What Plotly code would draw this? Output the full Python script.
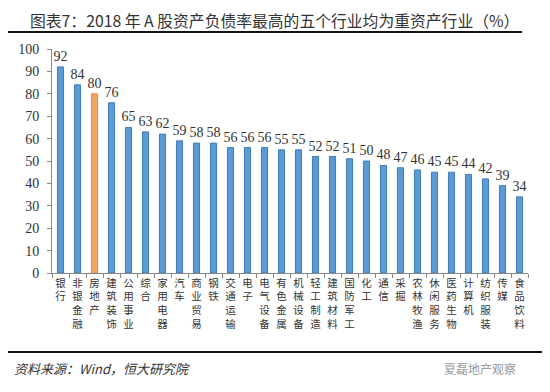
import plotly.graph_objects as go

categories = ["银行", "非银金融", "房地产", "建筑装饰", "公用事业", "综合", "家用电器", "汽车",
              "商业贸易", "钢铁", "交通运输", "电子", "电气设备", "有色金属", "机械设备", "轻工制造",
              "建筑材料", "国防军工", "化工", "通信", "采掘", "农林牧渔", "休闲服务", "医药生物",
              "计算机", "纺织服装", "传媒", "食品饮料"]
values = [92, 84, 80, 76, 65, 63, 62, 59, 58, 58, 56, 56, 56, 55, 55, 52,
          52, 51, 50, 48, 47, 46, 45, 45, 44, 42, 39, 34]
highlight = "房地产"
title_text = "图表7：2018 年 A 股资产负债率最高的五个行业均为重资产行业（%）"
source_text = "资料来源：Wind，恒大研究院"
watermark_text = "夏磊地产观察"
y_ticks = list(range(0, 101, 10))

# the page body adds an 8px margin; size the figure to fill the rest of the window
OFF = 8
W, H = 550 - OFF, 392 - OFF
L, R, T, B = 52 - OFF, 22, 49 - OFF, 392 - 273
pw, ph = W - L - R, H - T - B

def px(x):
    return (x - OFF - L) / pw

def py(y):
    return 1 - (y - OFF - T) / ph

blue = "#5B9BD5"
orange = "#F4A261"
colors = [orange if c == highlight else blue for c in categories]
lines = ["#F08A3C" if c == highlight else "#3F7CB5" for c in categories]

tick_labels = ["<br>".join(list(c)) for c in categories]

fig = go.Figure(go.Bar(
    x=categories, y=values,
    marker=dict(color=colors, line=dict(color=lines, width=1)),
    text=[str(v) for v in values], textposition="outside",
    textfont=dict(family="Liberation Serif", size=14, color="#333333"),
    constraintext="none",
    cliponaxis=False,
))

fig.update_layout(
    width=W, height=H,
    margin=dict(l=L, r=R, t=T, b=B, autoexpand=False),
    paper_bgcolor="white", plot_bgcolor="white",
    bargap=0.64, showlegend=False,
    title=dict(text=title_text, xref="container", yref="container",
               x=(30 - OFF) / W, y=1 - 19 / H, xanchor="left", yanchor="bottom",
               pad=dict(t=0, b=0, l=0, r=0),
               font=dict(family="Noto Sans CJK SC", size=15.8, color="#333333")),
    xaxis=dict(
        tickmode="array", tickvals=categories, ticktext=tick_labels,
        tickfont=dict(family="Noto Sans CJK SC", size=10.5, color="#333333"),
        showline=True, linecolor="#888888", linewidth=1,
        ticks="outside", ticklen=4, tickcolor="#888888", tickson="boundaries",
        showgrid=False, tickangle=0,
    ),
    yaxis=dict(
        range=[0, 100], tickvals=y_ticks,
        tickfont=dict(family="Liberation Serif", size=14, color="#333333"),
        showline=True, linecolor="#888888", linewidth=1,
        ticks="outside", ticklen=4, tickcolor="#888888",
        showgrid=False, zeroline=False, ticklabelstandoff=5,
    ),
    font=dict(family="Noto Sans CJK SC"),
)

fig.add_shape(type="line", xref="paper", yref="paper",
              x0=px(8), x1=px(522), y0=py(32), y1=py(32),
              line=dict(color="#111111", width=2))
fig.add_shape(type="line", xref="paper", yref="paper",
              x0=px(8), x1=px(545), y0=py(352), y1=py(352),
              line=dict(color="#111111", width=2))
fig.add_annotation(text="<i>" + source_text + "</i>", xref="paper", yref="paper",
                   x=px(12), y=py(368), xanchor="left", yanchor="middle",
                   showarrow=False, font=dict(family="Noto Sans CJK SC", size=13, color="#333333"))
fig.add_annotation(text=watermark_text, xref="paper", yref="paper",
                   x=px(518), y=py(368), xanchor="right", yanchor="middle",
                   showarrow=False, font=dict(family="Noto Sans CJK SC", size=12, color="#9a9a9a"))

fig.write_html("out.html")
